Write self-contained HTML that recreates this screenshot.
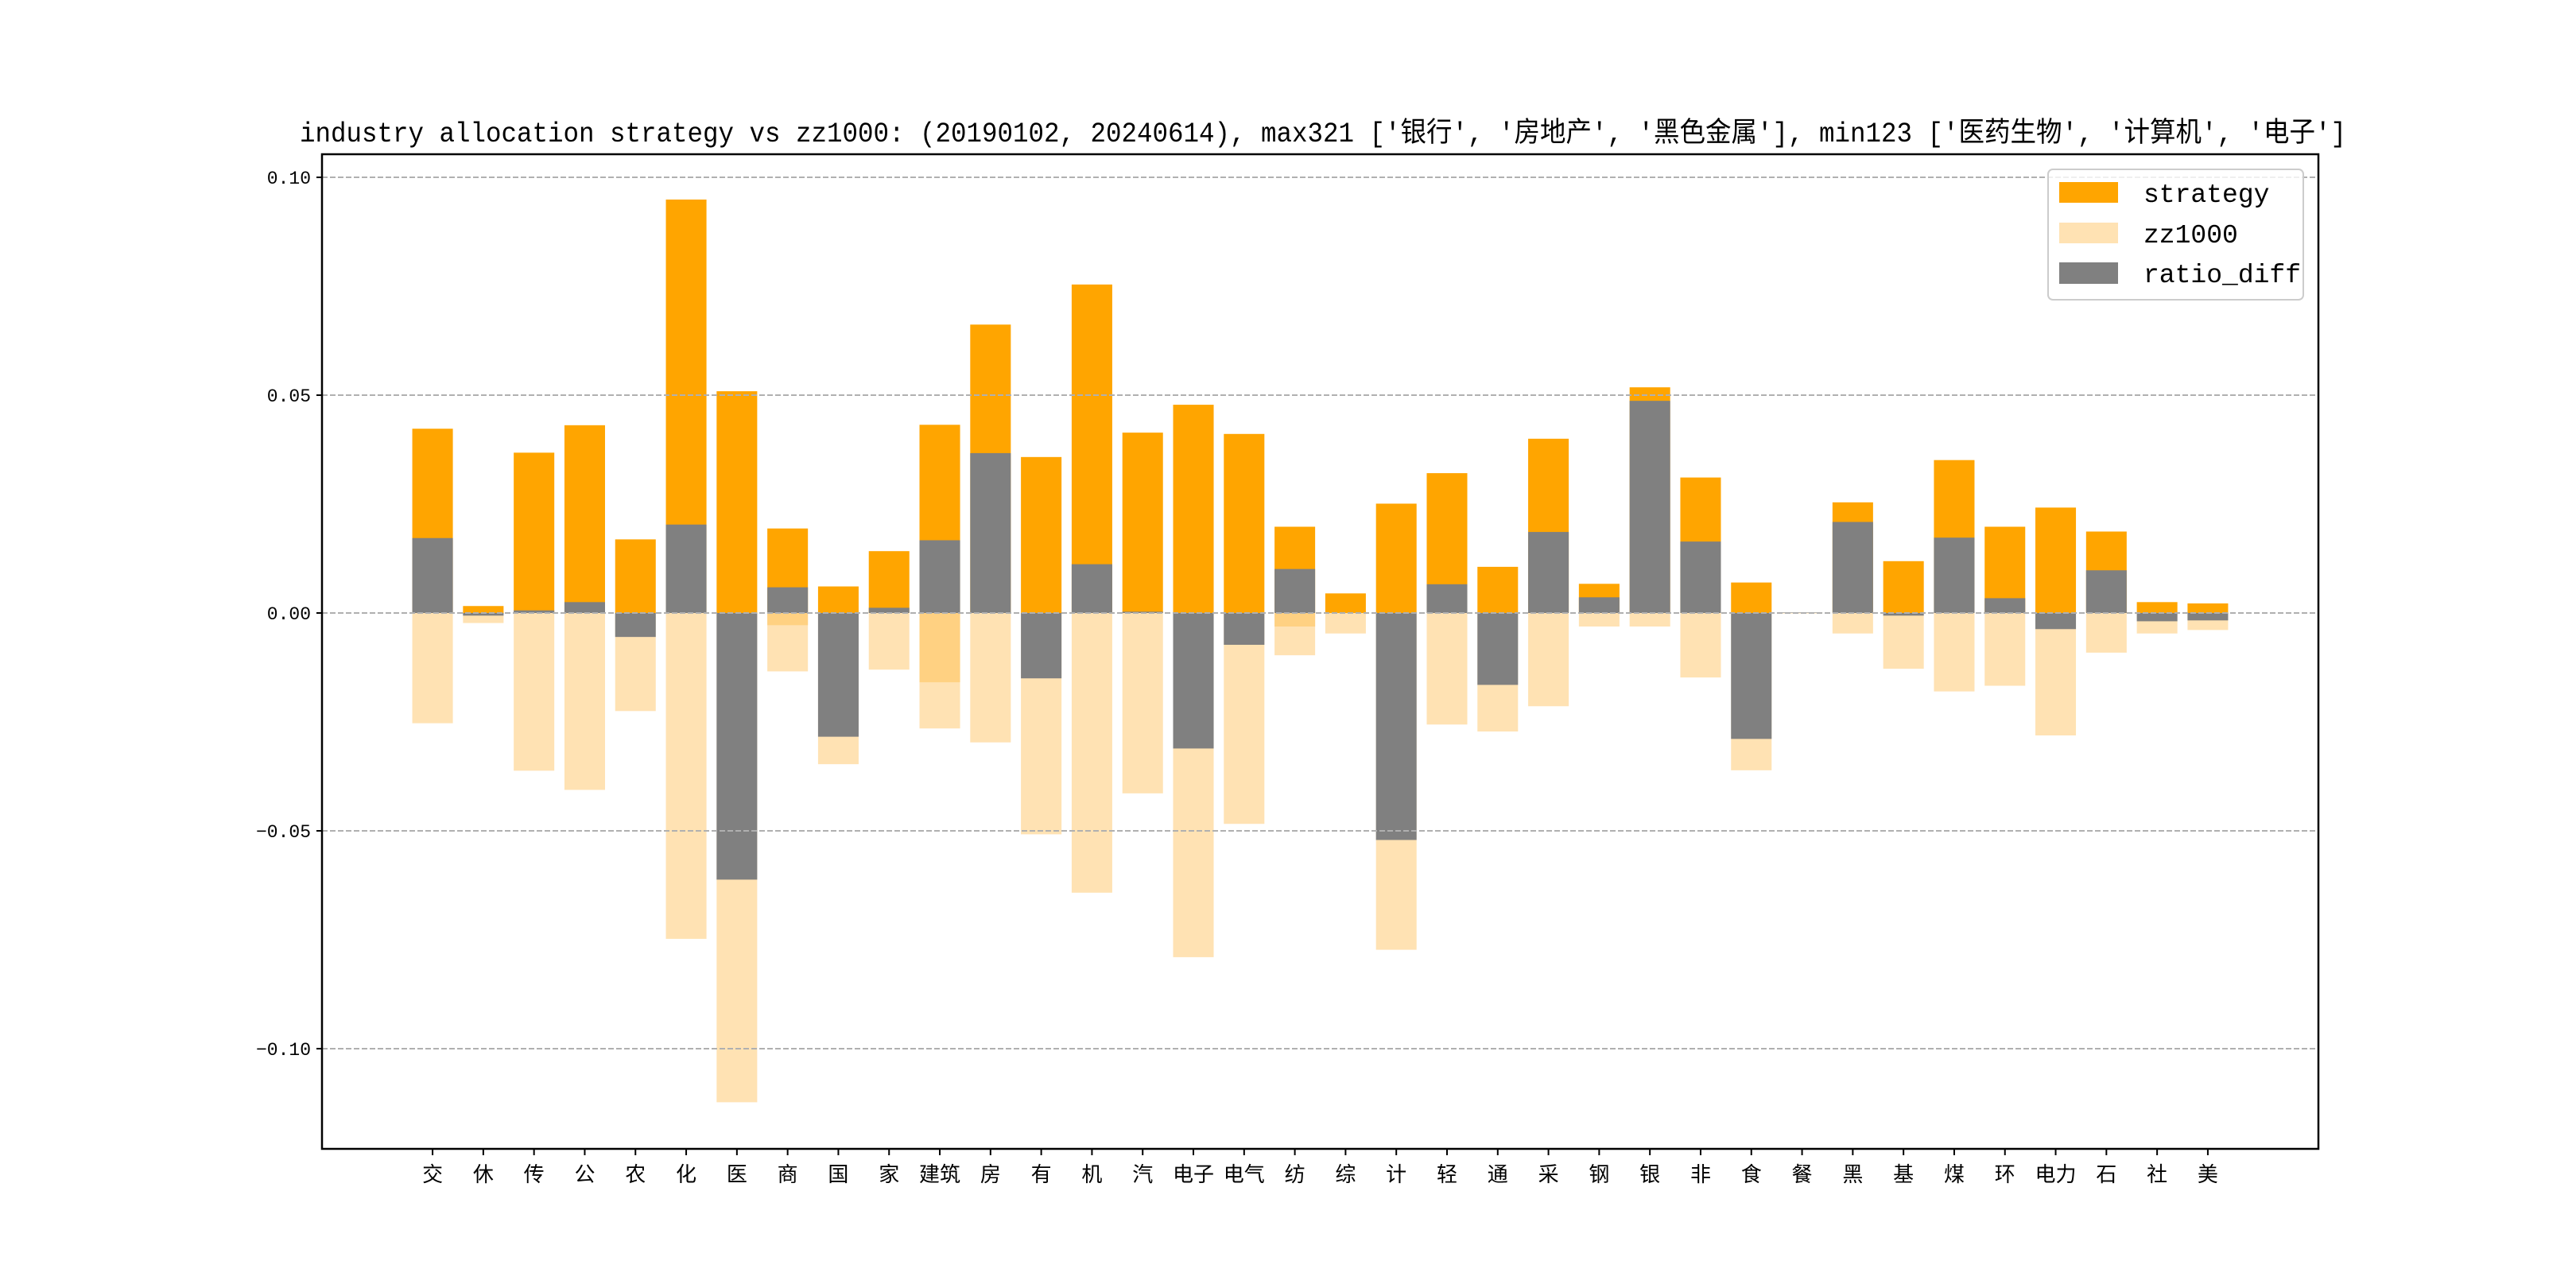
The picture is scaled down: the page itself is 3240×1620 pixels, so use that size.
<!DOCTYPE html>
<html><head><meta charset="utf-8">
<style>
html,body{margin:0;padding:0;background:#fff;}
svg{display:block;}
text{font-family:"Liberation Sans","Noto Sans CJK SC",sans-serif;}
</style></head>
<body>
<svg id="chart" width="3240" height="1620" viewBox="0 0 3240 1620" xmlns="http://www.w3.org/2000/svg">
<rect width="3240" height="1620" fill="#fff"/>
<text x="1664" y="178" text-anchor="middle" font-size="35" textLength="2574" lengthAdjust="spacingAndGlyphs" style="font-family:'Liberation Mono','Noto Sans CJK SC',monospace">industry allocation strategy vs zz1000: (20190102, 20240614), max321 ['银行', '房地产', '黑色金属'], min123 ['医药生物', '计算机', '电子']</text>
<g id="bars"></g>
<g id="grid"></g>
<g id="axes"></g>
<g id="legend">
  <rect x="2576" y="213" width="321" height="164" rx="6" fill="#fff" fill-opacity="0.8" stroke="#ccc" stroke-width="2"/>
  <rect x="2590" y="229" width="74" height="26" fill="#ffa500"/>
  <text x="2696" y="254" font-size="33" style="font-family:'Liberation Mono',monospace">strategy</text>
  <rect x="2590" y="280" width="74" height="26" fill="#ffe2b3"/>
  <text x="2696" y="305" font-size="33" style="font-family:'Liberation Mono',monospace">zz1000</text>
  <rect x="2590" y="330" width="74" height="27" fill="#808080"/>
  <text x="2696" y="355" font-size="33" style="font-family:'Liberation Mono',monospace">ratio_diff</text>
</g>
</svg>
<script>
const categories = ["交","休","传","公","农","化","医","商","国","家","建筑","房","有","机","汽","电子","电气","纺","综","计","轻","通","采","钢","银","非","食","餐","黑","基","煤","环","电力","石","社","美"];
const strategyValues = [0.0423,0.0016,0.0368,0.0431,0.0169,0.0949,0.0509,0.0194,0.0061,0.0142,0.0432,0.0662,0.0358,0.0754,0.0414,0.0478,0.0411,0.0198,0.0045,0.0251,0.0321,0.0106,0.0400,0.0067,0.0518,0.0311,0.0070,0.0001,0.0254,0.0119,0.0351,0.0198,0.0242,0.0187,0.0025,0.0022];
const zz1000Values = [0.0253,0.0023,0.0362,0.0406,0.0225,0.0748,0.1123,0.0134,0.0347,0.0130,0.0265,0.0297,0.0508,0.0642,0.0414,0.0790,0.0484,0.0097,0.0047,0.0773,0.0256,0.0272,0.0214,0.0031,0.0031,0.0148,0.0361,0.0001,0.0047,0.0128,0.0180,0.0167,0.0281,0.0091,0.0047,0.0039];
const ratioDiffValues = [0.0172,-0.0006,0.0006,0.0025,-0.0055,0.0203,-0.0612,0.0059,-0.0284,0.0012,0.0167,0.0367,-0.0150,0.0112,0.0003,-0.0311,-0.0073,0.0101,0,-0.0521,0.0066,-0.0165,0.0186,0.0036,0.0487,0.0164,-0.0289,0.0001,0.0209,-0.0006,0.0173,0.0034,-0.0037,0.0098,-0.0019,-0.0017];
const overlapValues = [0,0,0,0,0,0,0,0.0028,0,0,0.0159,0,0,0,0,0,0,0.0031,0,0,0,0,0,0,0,0,0,0,0,0,0,0,0,0,0,0];
const yTicks = [0.10,0.05,0.00,-0.05,-0.10];
const yTickLabels = ["0.10","0.05","0.00","\u22120.05","\u22120.10"];

const NS="http://www.w3.org/2000/svg";
const L=405,R=2916,T=194,B=1445;
const yMax=0.1053,yMin=-0.1230;
const xMin=-2.18,xMax=categories.length-1+2.18;
function xs(i){return L+(i-xMin)/(xMax-xMin)*(R-L);}
function ys(v){return T+(yMax-v)/(yMax-yMin)*(B-T);}
const bw=0.8*(xs(1)-xs(0));
function mk(tag,attrs,parent){const e=document.createElementNS(NS,tag);for(const k in attrs)e.setAttribute(k,attrs[k]);parent.appendChild(e);return e;}
function bar(i,v0,v1,fill,g){const y0=ys(Math.max(v0,v1)),y1=ys(Math.min(v0,v1));return mk('rect',{x:xs(i)-bw/2,y:y0,width:bw,height:Math.max(0,y1-y0),fill:fill},g);}
const gb=document.getElementById('bars');
categories.forEach((c,i)=>{
  let r=bar(i,0,strategyValues[i],'#ffa500',gb);
  
  
  r=bar(i,0,-zz1000Values[i],'#ffe2b3',gb);
  
  
  if(overlapValues[i]>0){
    r=bar(i,0,-overlapValues[i],'#ffd182',gb);
    
    
  }
  r=bar(i,0,ratioDiffValues[i],'#808080',gb);
  
  
});
const gg=document.getElementById('grid');
yTicks.forEach((t,k)=>{
  const l=mk('line',{x1:L,x2:R,y1:ys(t),y2:ys(t),stroke:'#b0b0b0','stroke-width':2,'stroke-dasharray':'7,3'},gg);
  
  
});
const ga=document.getElementById('axes');
const frame=mk('rect',{x:L,y:T,width:R-L,height:B-T,fill:'none',stroke:'#000','stroke-width':2.5},ga);


yTicks.forEach((t,k)=>{
  mk('line',{x1:L-7,x2:L,y1:ys(t),y2:ys(t),stroke:'#000','stroke-width':2},ga);
  const tx=mk('text',{x:L-14,y:ys(t)+8,'text-anchor':'end','font-size':23,style:"font-family:'Liberation Mono',monospace"},ga);
  tx.textContent=yTickLabels[k];
  
  
});
categories.forEach((c,i)=>{
  mk('line',{x1:xs(i),x2:xs(i),y1:B,y2:B+8,stroke:'#000','stroke-width':2},ga);
  const tx=mk('text',{x:xs(i),y:B+41,'text-anchor':'middle','font-size':26},ga);
  tx.textContent=c;
  
  
});
</script>
</body></html>
